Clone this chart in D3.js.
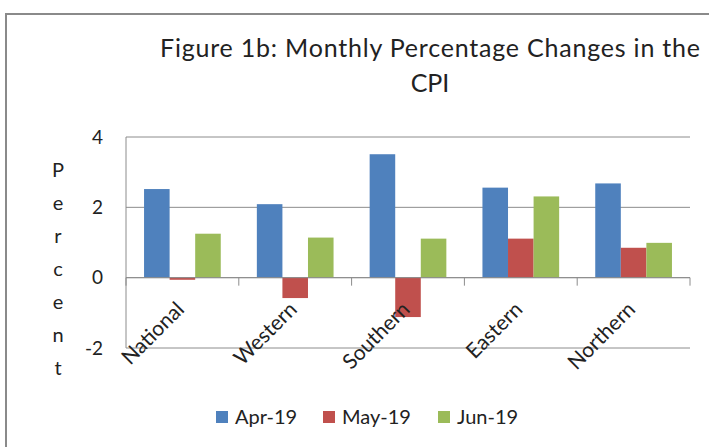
<!DOCTYPE html>
<html>
<head>
<meta charset="utf-8">
<script src="https://cdn.jsdelivr.net/npm/d3@7"></script>
<style>
body{margin:0;background:#fff;}
text{font-family:Lato,"Open Sans",sans-serif;fill:#222;}
</style>
</head>
<body>
<div id="chart"></div>
<script>
const regions=["National","Western","Southern","Eastern","Northern"];
const seriesNames=["Apr-19","May-19","Jun-19"];
const apr19=[2.52,2.09,3.51,2.56,2.68];
const may19=[-0.06,-0.58,-1.12,1.11,0.85];
const jun19=[1.25,1.14,1.11,2.31,0.99];
const yTicks=[-2,0,2,4];
const colors=["#4F81BD","#C0504D","#9BBB59"];

const width=709,height=447;
const svg=d3.select("#chart").append("svg")
    .attr("width",width)
    .attr("height",height);

// outer frame (cut off right and bottom)
svg.append("path")
    .attr("d","M6,447V14H709")
    .attr("fill","none")
    .attr("stroke","#8a8a8a")
    .attr("stroke-width",2);

const plotL=126,plotR=690,plotT=137,plotB=348;

const x=d3.scaleBand().domain(regions).range([plotL,plotR]).paddingInner(0.32).paddingOuter(0.16);
const xs=d3.scaleBand().domain(seriesNames).range([0,x.bandwidth()]);
const y=d3.scaleLinear().domain([-2,4]).range([plotB,plotT]);

// gridlines
svg.append("g")
    .selectAll("line")
    .data(yTicks)
    .join("line")
    .attr("x1",plotL).attr("x2",plotR)
    .attr("y1",d=>y(d)).attr("y2",d=>y(d))
    .attr("stroke","#8c8c8c")
    .attr("stroke-width",1);

svg.append("line")
    .attr("x1",plotL).attr("x2",plotL)
    .attr("y1",plotT).attr("y2",plotB)
    .attr("stroke","#8c8c8c");

// category tick marks
const step=(plotR-plotL)/regions.length;
svg.append("g")
    .selectAll("line")
    .data(d3.range(regions.length+1))
    .join("line")
    .attr("x1",i=>plotL+i*step).attr("x2",i=>plotL+i*step)
    .attr("y1",y(0)).attr("y2",y(0)+8)
    .attr("stroke","#8c8c8c");

// y tick labels
svg.append("g")
    .selectAll("text")
    .data(yTicks)
    .join("text")
    .attr("x",103)
    .attr("y",d=>y(d))
    .attr("dy","0.35em")
    .attr("text-anchor","end")
    .style("font-size","19px")
    .text(d=>d);

// bars
const table=regions.map((r,i)=>({region:r,values:[apr19[i],may19[i],jun19[i]]}));
const groups=svg.append("g")
    .selectAll("g")
    .data(table)
    .join("g")
    .attr("transform",d=>`translate(${x(d.region)},0)`);

groups.selectAll("rect")
    .data(d=>d.values.map((v,j)=>({name:seriesNames[j],v,j})))
    .join("rect")
    .attr("x",d=>xs(d.name))
    .attr("width",xs.bandwidth())
    .attr("y",d=>y(Math.max(0,d.v)))
    .attr("height",d=>Math.abs(y(d.v)-y(0)))
    .attr("fill",d=>colors[d.j]);

// redraw zero line above bars
svg.append("line")
    .attr("x1",plotL).attr("x2",plotR)
    .attr("y1",y(0)).attr("y2",y(0))
    .attr("stroke","#8c8c8c");

// x labels rotated
svg.append("g")
    .selectAll("text")
    .data(regions)
    .join("text")
    .attr("text-anchor","end")
    .attr("transform",d=>`translate(${x(d)+x.bandwidth()/2+3},${y(0)+33}) rotate(-45)`)
    .style("font-size","21px")
    .text(d=>d);

// y axis title, stacked letters
svg.append("g")
    .selectAll("text")
    .data("Percent".split(""))
    .join("text")
    .attr("x",58)
    .attr("y",(d,i)=>170+i*33)
    .attr("dy","0.35em")
    .attr("text-anchor","middle")
    .style("font-size","20px")
    .text(d=>d);

// title
svg.append("text")
    .attr("x",430).attr("y",57)
    .attr("text-anchor","middle")
    .attr("textLength",540)
    .attr("lengthAdjust","spacing")
    .style("font-size","25px")
    .text("Figure 1b: Monthly Percentage Changes in the");
svg.append("text")
    .attr("x",430).attr("y",92)
    .attr("text-anchor","middle")
    .style("font-size","25px")
    .text("CPI");

// legend
const legendX=[216,323,438];
const legend=svg.append("g")
    .selectAll("g")
    .data(seriesNames)
    .join("g")
    .attr("transform",(d,i)=>`translate(${legendX[i]},411)`);
legend.append("rect")
    .attr("width",12).attr("height",12)
    .attr("fill",(d,i)=>colors[i]);
legend.append("text")
    .attr("x",19).attr("y",6)
    .attr("dy","0.35em")
    .style("font-size","20px")
    .text(d=>d);
</script>
</body>
</html>
